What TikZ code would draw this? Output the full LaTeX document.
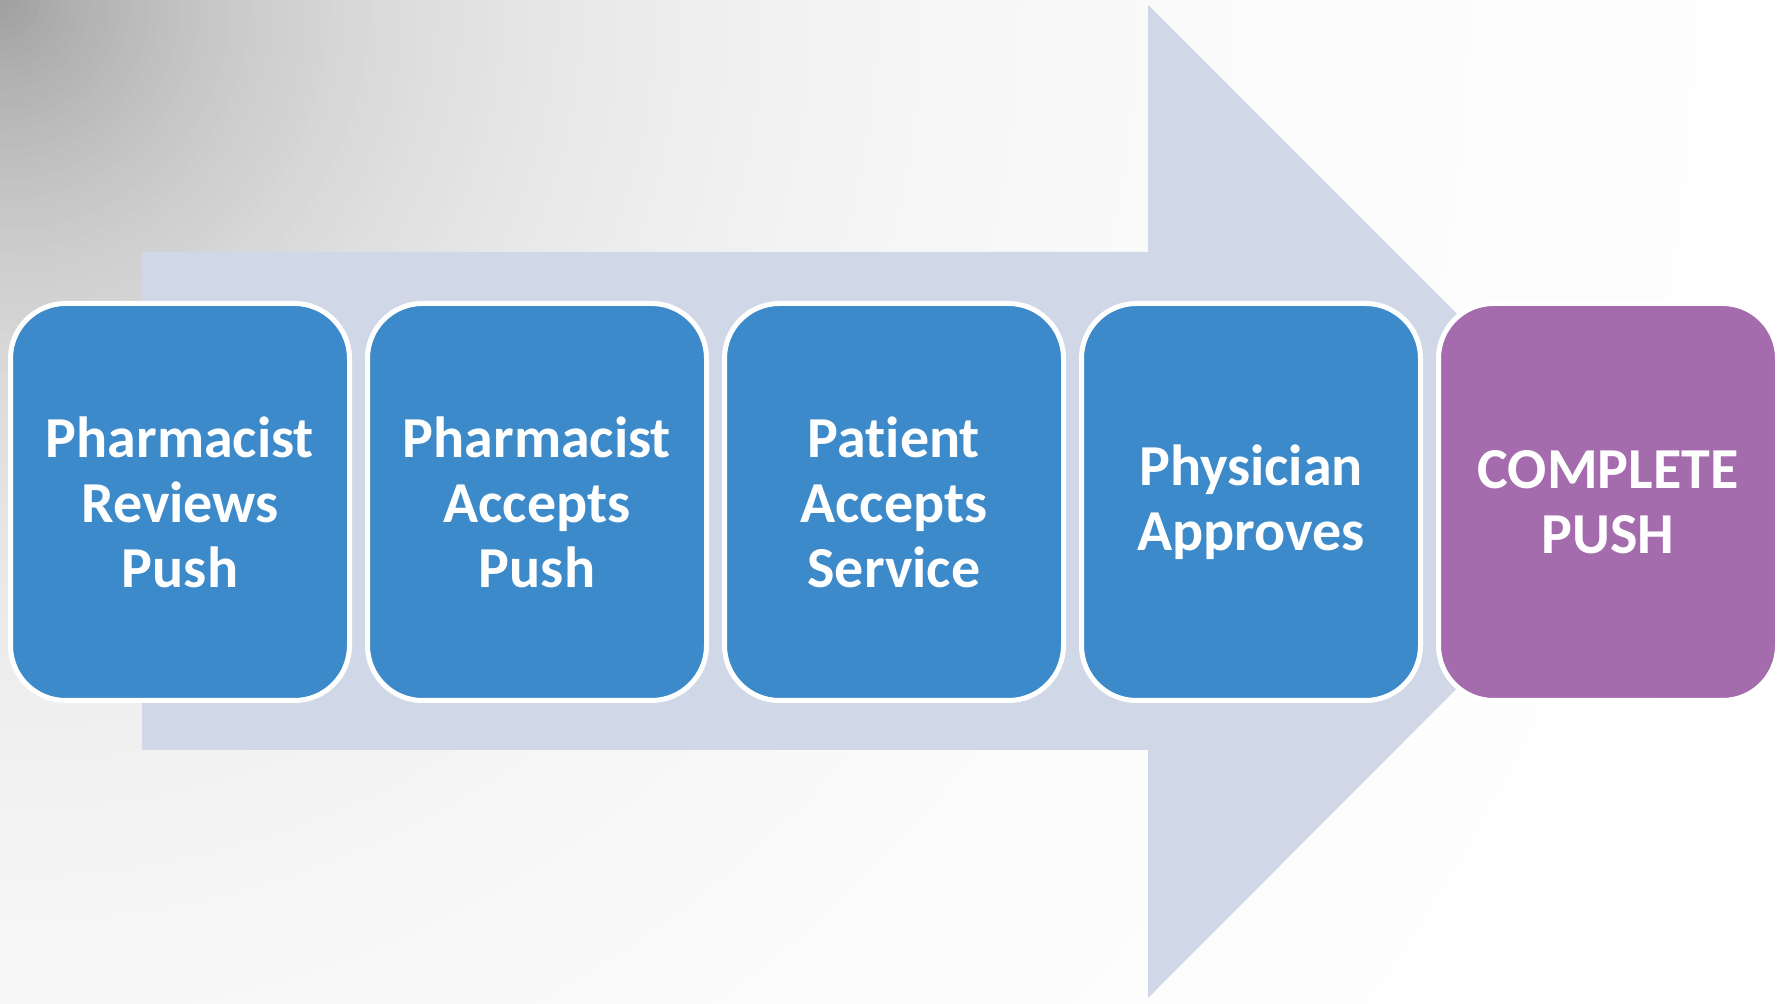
\documentclass[tikz,border=0pt]{standalone}
\usepackage{fontspec}
\setmainfont[Ligatures=NoCommon]{Carlito}
\definecolor{arrowfill}{RGB}{208,216,232}
\definecolor{boxblue}{RGB}{60,138,201}
\definecolor{boxpurple}{RGB}{164,108,172}
\begin{document}
\begin{tikzpicture}[x=0.5pt,y=-0.5pt,
  stepbox/.style={draw=white, line width=2.5pt, rounded corners=27.5pt,
    minimum width=169.5pt, minimum height=198.5pt, inner sep=0pt,
    text=white, align=center,
    font=\fontsize{29}{32.5}\selectfont\bfseries},
  bluebox/.style={stepbox, fill=boxblue},
  purplebox/.style={stepbox, fill=boxpurple}]
\useasboundingbox (0,0) rectangle (1783,1004);
\begin{scope}
\clip (0,0) rectangle (1783,1004);
\fill[white] (0,0) rectangle (1783,1004);
\foreach \r in {1800,1790,...,0} {
  \pgfmathsetmacro\p{38*exp(-\r/400)}
  \fill[black!\p] (0,0) circle (\r);
}
\end{scope}
\fill[arrowfill] (142,252) -- (1148,252) -- (1148,5) -- (1644,501) -- (1148,998) -- (1148,750) -- (142,750) -- cycle;
\node[bluebox] (s1) at (180,502) {Pharmacist\\Reviews\\Push};
\node[bluebox] (s2) at (537,502) {Pharmacist\\Accepts\\Push};
\node[bluebox] (s3) at (894,502) {Patient\\Accepts\\Service};
\node[bluebox] (s4) at (1251,502) {Physician\\Approves};
\node[purplebox] (s5) at (1608,502) {COMPLETE\\PUSH};
\end{tikzpicture}
\end{document}
